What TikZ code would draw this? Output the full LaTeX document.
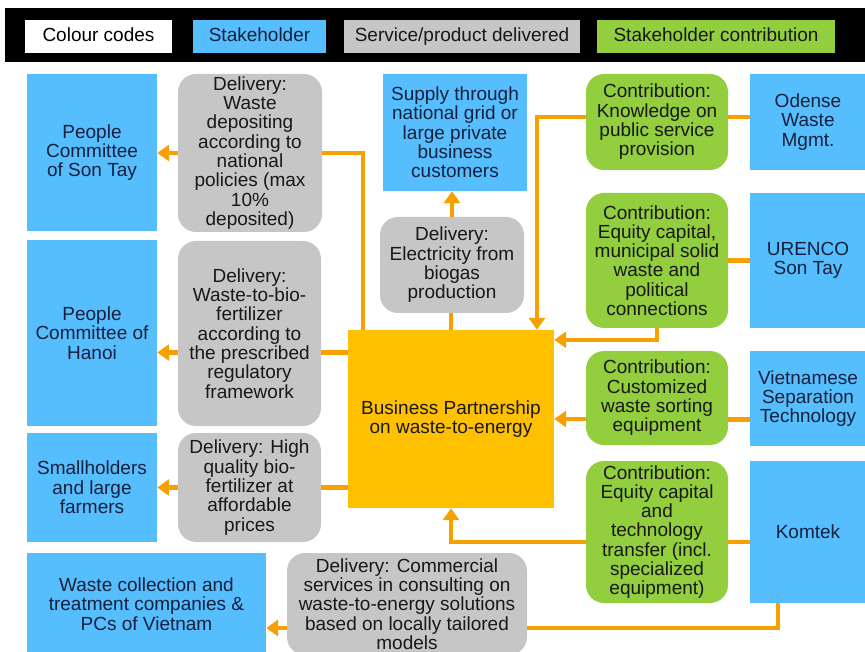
\documentclass[tikz,border=0pt]{standalone}
\usepackage{fontspec}
\setmainfont{Liberation Sans}
\usetikzlibrary{arrows.meta}

\definecolor{stakeblue}{RGB}{86,190,252}
\definecolor{delivgrey}{RGB}{198,198,198}
\definecolor{contgreen}{RGB}{146,206,62}
\definecolor{partyellow}{RGB}{255,192,0}
\definecolor{linkorange}{RGB}{247,160,0}
\definecolor{navytext}{RGB}{22,32,62}
\definecolor{darktext}{RGB}{24,24,24}

\begin{document}
\begin{tikzpicture}[x=1pt, y=-1pt,
  font=\fontsize{19}{19.3}\selectfont,
  box/.style={inner sep=0pt, align=center},
  stakeholder/.style={box, fill=stakeblue, text=navytext},
  delivery/.style={box, fill=delivgrey, text=darktext, rounded corners=18pt},
  contribution/.style={box, fill=contgreen, text=darktext, rounded corners=18pt},
  legendbox/.style={box, minimum height=33pt, text height=13.5pt, text depth=4pt},
  link/.style={draw=linkorange, line width=4.5pt},
  arr/.style={link, -{Triangle[width=16pt,length=12pt]}}]

\useasboundingbox (0, 0) rectangle (865, 652);
\clip (0, 0) rectangle (865, 652);

\node (legendbar)[fill=black, minimum width=860pt, minimum height=54pt, inner sep=0pt] at (435, 35) {};
\node (codes)[legendbox, fill=white, text=black, minimum width=147pt] at (98.5, 36.5) {Colour codes};
\node (keystake)[legendbox, fill=stakeblue, text=navytext, minimum width=133pt] at (259.5, 36.5) {Stakeholder};
\node (keydeliv)[legendbox, fill=delivgrey, text=darktext, minimum width=236pt] at (462, 36.5) {Service/product delivered};
\node (keycontrib)[legendbox, fill=contgreen, text=darktext, minimum width=238pt] at (716, 36.5) {Stakeholder contribution};

\node (sontay)[stakeholder, minimum width=130pt, minimum height=157pt] at (92, 152.5) {People\\Committee\\of Son Tay};
\node (hanoi)[stakeholder, minimum width=130pt, minimum height=186pt] at (92, 333) {People\\Committee of\\Hanoi};
\node (farmers)[stakeholder, minimum width=130pt, minimum height=109pt] at (92, 487.5) {Smallholders\\and large\\farmers};
\node (wastecos)[stakeholder, minimum width=239pt, minimum height=102pt] at (146.5, 604) {Waste collection and\\treatment companies \&\\PCs of Vietnam};

\node (depositing)[delivery, minimum width=144pt, minimum height=158pt] at (250, 153) {Delivery:\\Waste\\depositing\\according to\\national\\policies (max\\10\%\\deposited)};
\node (biofert)[delivery, minimum width=143pt, minimum height=185pt] at (249.5, 333.5) {Delivery:\\Waste-to-bio-\\fertilizer\\according to\\the prescribed\\regulatory\\framework};
\node (quality)[delivery, minimum width=143pt, minimum height=109pt] at (249.5, 487.5) {Delivery: High\\quality bio-\\fertilizer at\\affordable\\prices};
\node (consulting)[delivery, minimum width=240pt, minimum height=102pt] at (407, 604) {Delivery: Commercial\\services in consulting on\\waste-to-energy solutions\\based on locally tailored\\models};

\node (supply)[stakeholder, minimum width=144pt, minimum height=117pt] at (455, 132.5) {Supply through\\national grid or\\large private\\business\\customers};
\node (electricity)[delivery, minimum width=144pt, minimum height=96pt] at (452, 265) {Delivery:\\Electricity from\\biogas\\production};
\node (partnership)[box, fill=partyellow, text=darktext, minimum width=206pt, minimum height=178pt] at (451, 419) {Business Partnership\\on waste-to-energy};

\node (knowledge)[contribution, minimum width=142pt, minimum height=96pt] at (657, 122) {Contribution:\\Knowledge on\\public service\\provision};
\node (equity)[contribution, minimum width=142pt, minimum height=135pt] at (657, 260.5) {Contribution:\\Equity capital,\\municipal solid\\waste and\\political\\connections};
\node (sorting)[contribution, minimum width=142pt, minimum height=94pt] at (657, 398) {Contribution:\\Customized\\waste sorting\\equipment};
\node (techtransfer)[contribution, minimum width=142pt, minimum height=142pt] at (657, 532) {Contribution:\\Equity capital\\and\\technology\\transfer (incl.\\specialized\\equipment)};

\node (odense)[stakeholder, minimum width=116pt, minimum height=96pt] at (808, 122) {Odense\\Waste\\Mgmt.};
\node (urenco)[stakeholder, minimum width=116pt, minimum height=135pt] at (808, 260.5) {URENCO\\Son Tay};
\node (vst)[stakeholder, minimum width=116pt, minimum height=95pt] at (808, 398.5) {Vietnamese\\Separation\\Technology};
\node (komtek)[stakeholder, minimum width=116pt, minimum height=142pt] at (808, 532) {Komtek};

\draw[link] ([xshift=-88pt]partnership.north) |- (depositing.east);
\draw[arr] (depositing.west) -- (depositing.west -| sontay.east);
\draw[link] ([yshift=-19pt]biofert.east -| partnership.west) -- ([yshift=-19pt]biofert.east);
\draw[arr] ([yshift=-19pt]biofert.west) -- ([yshift=-19pt]biofert.west -| hanoi.east);
\draw[link] (quality.east -| partnership.west) -- (quality.east);
\draw[arr] (quality.west) -- (quality.west -| farmers.east);

\draw[link] (partnership.north) -- (partnership.north |- electricity.south);
\draw[arr] (electricity.north) -- (electricity.north |- supply.south);

\draw[link] ([yshift=5pt]odense.west) -- ([yshift=5pt]knowledge.east);
\draw[arr] ([yshift=5pt]knowledge.west) -| ([xshift=86pt]partnership.north);
\draw[link] (urenco.west) -- (equity.east);
\draw[arr] (equity.south) |- ([yshift=-10pt]partnership.north east);
\draw[link] ([yshift=-21pt]vst.west) -- ([yshift=-21pt]vst.west -| sorting.east);
\draw[arr] ([yshift=-21pt]sorting.west) -- ([yshift=-21pt]sorting.west -| partnership.east);
\draw[link] ([yshift=-10pt]komtek.west) -- ([yshift=-10pt]komtek.west -| techtransfer.east);
\draw[arr] ([yshift=-10pt]techtransfer.west) -| (partnership.south);

\draw[link] ([xshift=-30pt]komtek.south) |- ([yshift=-24pt]consulting.east);
\draw[arr] ([yshift=-24pt]consulting.west) -- ([yshift=-24pt]consulting.west -| wastecos.east);

\end{tikzpicture}
\end{document}
